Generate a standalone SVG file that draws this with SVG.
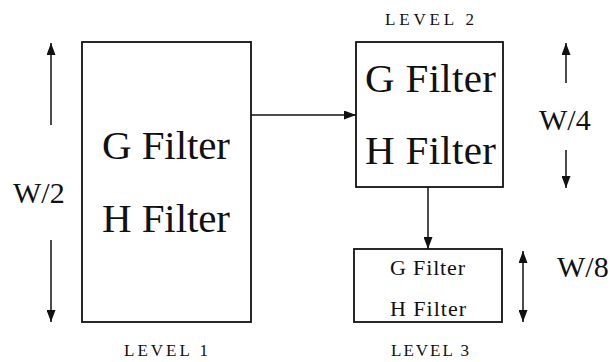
<svg xmlns="http://www.w3.org/2000/svg" width="611" height="362" viewBox="0 0 611 362">
  <defs>
    <marker id="head" markerWidth="12" markerHeight="9" refX="12" refY="4.5" orient="auto-start-reverse" markerUnits="userSpaceOnUse">
      <path d="M0,0 L12,4.5 L0,9 z" fill="#111"/>
    </marker>
  </defs>
  <style>
    .box { fill: #fff; stroke: #111; stroke-width: 1.8; }
    .arr { stroke: #111; stroke-width: 1.5; fill: none; marker-end: url(#head); }
    .dbl { stroke: #111; stroke-width: 1.5; fill: none; marker-start: url(#head); marker-end: url(#head); }
    text { font-family: "Liberation Serif", "Times New Roman", serif; fill: #111; }
    .big { font-size: 41px; }
    .small { font-size: 22px; }
    .dim { font-size: 30px; }
    .lvl { font-size: 17px; }
  </style>
  <rect width="611" height="362" fill="#fff"/>

  <!-- Level 1 filter bank -->
  <g id="level1">
    <rect class="box" x="82" y="42" width="169" height="280"/>
    <text class="big" x="102" y="159" textLength="128" lengthAdjust="spacing">G Filter</text>
    <text class="big" x="102" y="232" textLength="128" lengthAdjust="spacing">H Filter</text>
    <text class="lvl" x="124" y="356" textLength="84" lengthAdjust="spacing">LEVEL 1</text>
  </g>

  <!-- Level 2 filter bank -->
  <g id="level2">
    <rect class="box" x="356" y="42" width="147" height="145"/>
    <text class="big" x="365" y="92" textLength="131" lengthAdjust="spacing">G Filter</text>
    <text class="big" x="365" y="164" textLength="131" lengthAdjust="spacing">H Filter</text>
    <text class="lvl" x="385" y="25" textLength="89" lengthAdjust="spacing">LEVEL 2</text>
  </g>

  <!-- Level 3 filter bank -->
  <g id="level3">
    <rect class="box" x="354" y="249" width="148" height="73"/>
    <text class="small" x="390" y="275" textLength="75" lengthAdjust="spacing">G Filter</text>
    <text class="small" x="390" y="316" textLength="76" lengthAdjust="spacing">H Filter</text>
    <text class="lvl" x="391" y="356" textLength="78" lengthAdjust="spacing">LEVEL 3</text>
  </g>

  <!-- Size annotations -->
  <g id="dim-w2">
    <line class="arr" x1="51" y1="125" x2="51" y2="43"/>
    <line class="arr" x1="51" y1="240" x2="51" y2="322"/>
    <text class="dim" x="13" y="203">W/2</text>
  </g>
  <g id="dim-w4">
    <line class="arr" x1="566" y1="83" x2="566" y2="43"/>
    <line class="arr" x1="566" y1="150" x2="566" y2="188"/>
    <text class="dim" x="539" y="130">W/4</text>
  </g>
  <g id="dim-w8">
    <line class="dbl" x1="523" y1="251" x2="523" y2="322"/>
    <text class="dim" x="557" y="277">W/8</text>
  </g>

  <!-- Connectors between levels -->
  <g id="connectors">
    <line class="arr" x1="251" y1="115" x2="356" y2="115"/>
    <line class="arr" x1="428" y1="187" x2="428" y2="249"/>
  </g>
</svg>
